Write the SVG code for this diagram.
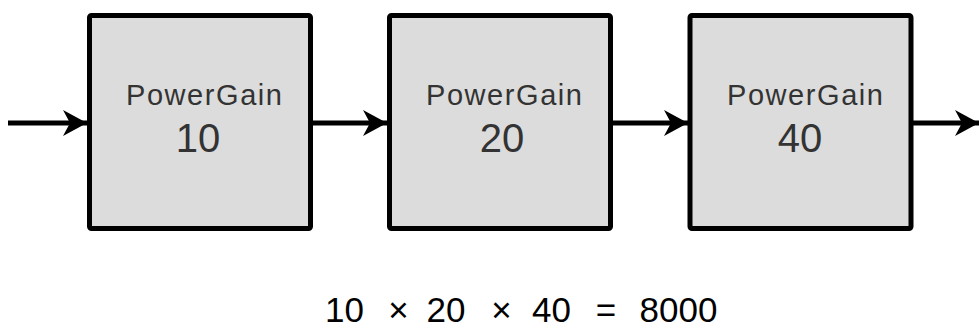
<svg xmlns="http://www.w3.org/2000/svg" width="980" height="330" viewBox="0 0 980 330">
<style>
.box{fill:#dcdcdc;stroke:#000;stroke-width:5;stroke-linejoin:round}
.lbl{font-family:"Liberation Sans",Arial,sans-serif;font-size:29px;fill:#333;text-anchor:middle}
.num{font-family:"Liberation Sans",Arial,sans-serif;font-size:40px;fill:#333;text-anchor:middle}
.eq{font-family:"Liberation Sans",Arial,sans-serif;font-size:35px;fill:#000;text-anchor:middle}
.wire{stroke:#000;stroke-width:5;fill:none}
</style>
<defs>
<marker id="arr" markerUnits="userSpaceOnUse" markerWidth="30" markerHeight="30" viewBox="-26 -15 28 30" refX="0" refY="0" orient="auto">
<path d="M0,0 L-24,-13 L-17,0 L-24,13 Z" fill="#000"/>
</marker>
</defs>
<rect width="980" height="330" fill="#fff"/>
<g id="connectors">
<line class="wire" x1="8" y1="123" x2="87" y2="123" marker-end="url(#arr)"/>
<line class="wire" x1="312" y1="123" x2="387" y2="123" marker-end="url(#arr)"/>
<line class="wire" x1="612" y1="123" x2="688" y2="123" marker-end="url(#arr)"/>
<line class="wire" x1="912" y1="123" x2="979" y2="123" marker-end="url(#arr)"/>
</g>
<g id="node1">
<rect class="box" x="89.5" y="15.5" width="221" height="213" rx="2"/>
<text class="lbl" x="204" y="105" textLength="156">PowerGain</text>
<text class="num" x="198" y="152">10</text>
</g>
<g id="node2">
<rect class="box" x="389.5" y="15.5" width="221" height="213" rx="2"/>
<text class="lbl" x="504" y="105" textLength="156">PowerGain</text>
<text class="num" x="502" y="152">20</text>
</g>
<g id="node3">
<rect class="box" x="690" y="15.5" width="221" height="213" rx="2"/>
<text class="lbl" x="805" y="105" textLength="156">PowerGain</text>
<text class="num" x="800" y="152">40</text>
</g>
<g id="equation">
<text class="eq" y="322"><tspan x="344.5">10</tspan><tspan x="398.5">×</tspan><tspan x="446">20</tspan><tspan x="501.5">×</tspan><tspan x="551.5">40</tspan><tspan x="606">=</tspan><tspan x="678.5">8000</tspan></text>
</g>
</svg>
